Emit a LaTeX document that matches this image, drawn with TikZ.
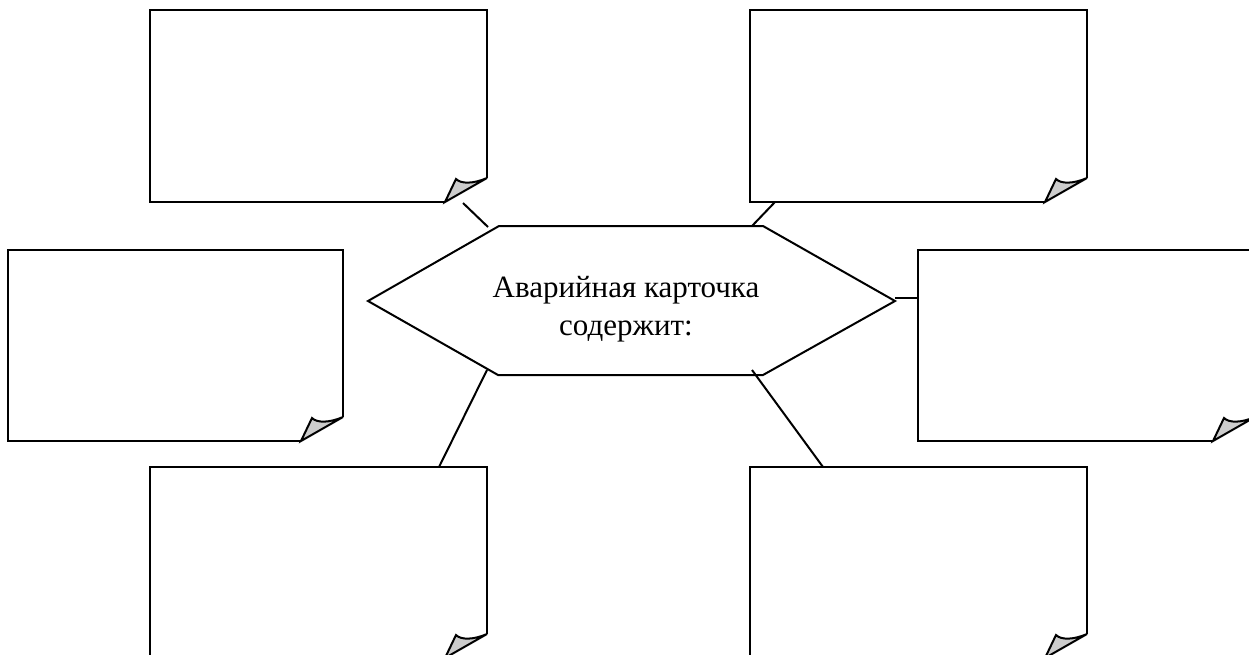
\documentclass[tikz,border=0pt]{standalone}
\usepackage{fontspec}
\setmainfont{Liberation Serif}
\newcommand\notebox[5]{%
  % #1 name, (#2,#3) top-left, (#4,#5) bottom-right
  \coordinate (#1-nw) at (#2,#3);
  \coordinate (#1-se) at (#4,#5);
  \draw[boxline] ({#4-42},#5) -- (#2,#5) -- (#2,#3) -- (#4,#3) -- (#4,{#5-24});
  \filldraw[boxline,fill=foldgray] ({#4-42},#5) -- ({#4-31},{#5-23})
     .. controls ({#4-26},{#5-18}) and ({#4-14},{#5-18}) .. (#4,{#5-24}) -- cycle;
}
\definecolor{foldgray}{RGB}{204,204,204}
\begin{document}
\begin{tikzpicture}[x=1pt,y=-1pt,
  boxline/.style={line width=2pt,line join=miter},
  conn/.style={line width=2pt},
  hexline/.style={line width=2pt,line join=miter},
  title/.style={align=center,font=\fontsize{31}{38}\selectfont,inner sep=0pt}]
\useasboundingbox (0,0) rectangle (1249,654);
\clip (0,0) rectangle (1249,654);
% boxes
\notebox{tl}{150}{10}{487}{202}
\notebox{tr}{750}{10}{1087}{202}
\notebox{ml}{8}{250}{343}{441}
\notebox{mr}{918}{250}{1255}{441}
\notebox{bl}{150}{467}{487}{658}
\notebox{br}{750}{467}{1087}{658}
% hexagon
\coordinate (h1) at (368,301);
\coordinate (h2) at (499,226);
\coordinate (h3) at (763,226);
\coordinate (h4) at (895,301);
\coordinate (h5) at (763,375);
\coordinate (h6) at (498,375);
\draw[hexline] (h1) -- (h2) -- (h3) -- (h4) -- (h5) -- (h6) -- cycle;
\node[title] (t) at (626,309) {Аварийная карточка\\содержит:};
% connector end points
\coordinate (tl-a) at (463,203);
\coordinate (tl-b) at (488,227);
\coordinate (tr-a) at (775,202);
\coordinate (tr-b) at (752,226);
\coordinate (mr-a) at (918,298);
\coordinate (mr-b) at (895,298);
\coordinate (bl-a) at (439,467);
\coordinate (bl-b) at (487,370);
\coordinate (br-a) at (823,467);
\coordinate (br-b) at (752,370);
\draw[conn] (tl-a) -- (tl-b);
\draw[conn] (tr-a) -- (tr-b);
\draw[conn] (mr-a) -- (mr-b);
\draw[conn] (bl-a) -- (bl-b);
\draw[conn] (br-a) -- (br-b);
\end{tikzpicture}
\end{document}
